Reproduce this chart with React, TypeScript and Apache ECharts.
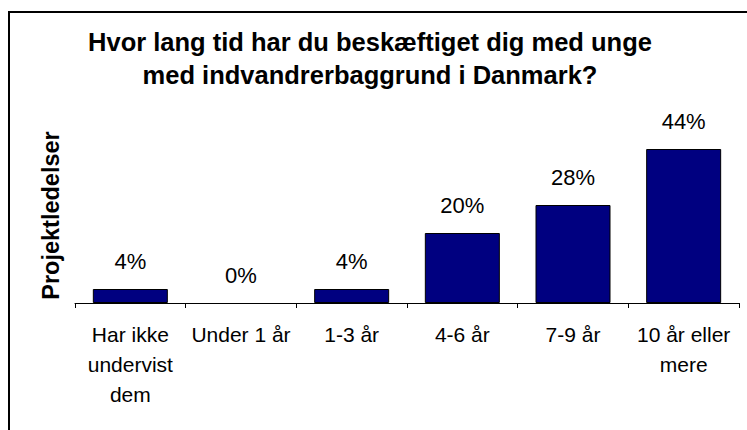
import React, { useEffect, useRef } from "react";
import * as echarts from "echarts";

const titleLines = [
  "Hvor lang tid har du beskæftiget dig med unge",
  "med indvandrerbaggrund i Danmark?",
];
const categories = [
  "Har ikke\nundervist\ndem",
  "Under 1 år",
  "1-3 år",
  "4-6 år",
  "7-9 år",
  "10 år eller\nmere",
];
const values = [4, 0, 4, 20, 28, 44];
const yAxisName = "Projektledelser";

const FONT = "'Liberation Sans', Arial, sans-serif";

export default function App() {
  const ref = useRef<HTMLDivElement>(null);
  useEffect(() => {
    if (!ref.current) return;
    const chart = echarts.init(ref.current, undefined, { renderer: "svg" });
    chart.setOption({
      animation: false,
      backgroundColor: "#ffffff",
      title: {
        text: titleLines.join("\n"),
        left: 370,
        textAlign: "center",
        top: 25,
        padding: 0,
        textStyle: {
          fontFamily: FONT,
          fontSize: 25.5,
          fontWeight: "bold",
          color: "#000",
          lineHeight: 33,
        },
      },
      graphic: [
        {
          type: "rect",
          shape: { x: 9, y: 12, width: 800, height: 500 },
          style: { fill: "none", stroke: "#000", lineWidth: 2 },
          silent: true,
          z: 100,
        },
      ],
      grid: { left: 75, right: 8, top: 128, bottom: 127, containLabel: false },
      xAxis: {
        type: "category",
        data: categories,
        axisLine: { show: true, lineStyle: { color: "#000", width: 1 } },
        axisTick: { show: true, alignWithLabel: false, length: 5, lineStyle: { color: "#000" } },
        axisLabel: {
          interval: 0,
          margin: 16,
          fontFamily: FONT,
          fontSize: 21,
          lineHeight: 30,
          color: "#000",
        },
      },
      yAxis: {
        type: "value",
        min: 0,
        max: 50,
        name: yAxisName,
        nameLocation: "middle",
        nameRotate: 90,
        nameGap: 12,
        nameTextStyle: {
          fontFamily: FONT,
          fontSize: 23.5,
          fontWeight: "bold",
          color: "#000",
        },
        axisLine: { show: false },
        axisTick: { show: false },
        axisLabel: { show: false },
        splitLine: { show: false },
      },
      series: [
        {
          type: "bar",
          data: values.map((v) =>
            v === 0
              ? { value: v, itemStyle: { borderWidth: 0, color: "rgba(0,0,0,0)" } }
              : v
          ),
          barWidth: 75,
          itemStyle: { color: "#000080", borderColor: "#000", borderWidth: 1 },
          label: {
            show: true,
            position: "top",
            distance: 17,
            formatter: "{c}%",
            fontFamily: FONT,
            fontSize: 22,
            color: "#000",
          },
        },
      ],
    });
    return () => chart.dispose();
  }, []);
  return (
    <div
      ref={ref}
      style={{ position: "fixed", left: 0, top: 0, width: 747, height: 430 }}
    />
  );
}
